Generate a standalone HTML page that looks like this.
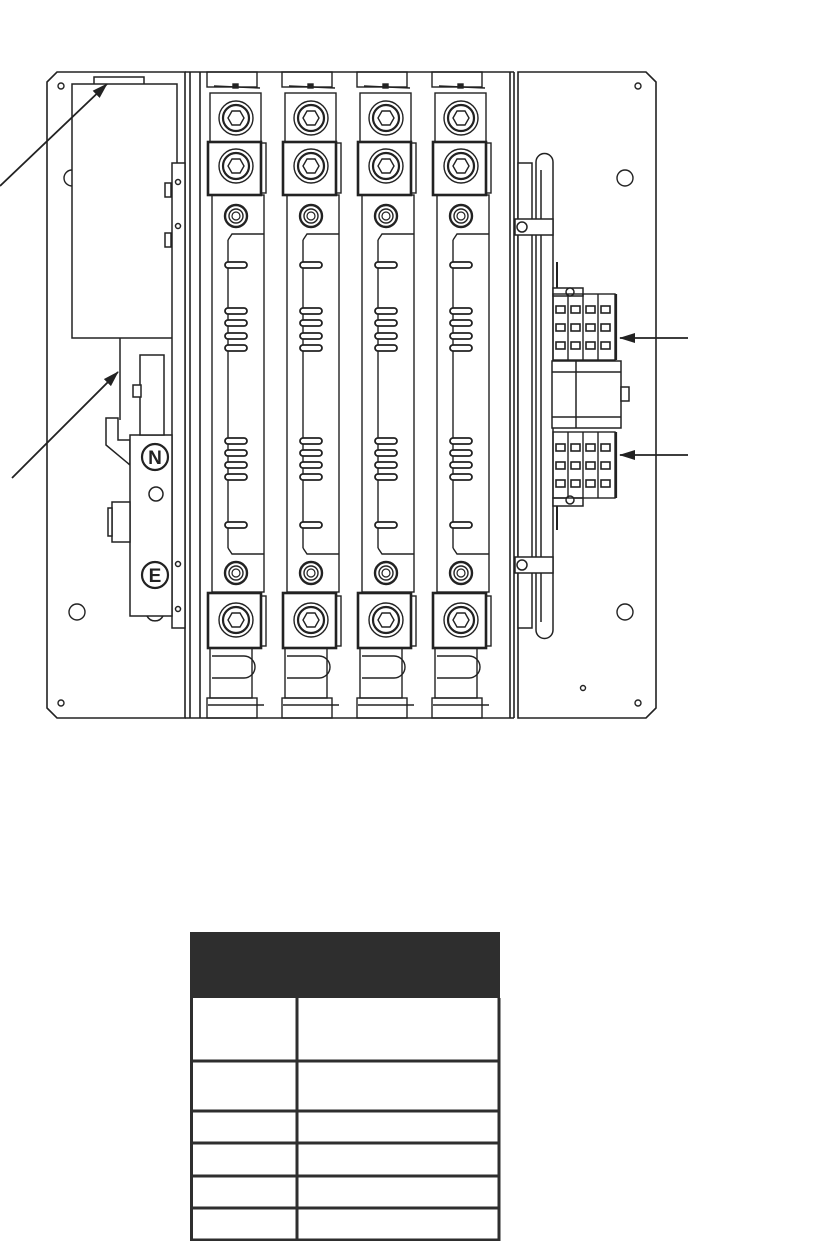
<!DOCTYPE html>
<html><head><meta charset="utf-8"><style>html,body{margin:0;padding:0;background:#fff}svg{display:block}</style></head>
<body>
<svg width="831" height="1241" viewBox="0 0 831 1241" xmlns="http://www.w3.org/2000/svg">
<defs>
<marker id="ah" markerWidth="16" markerHeight="10" refX="15" refY="5" orient="auto" markerUnits="userSpaceOnUse">
<path d="M0,0 L16,5 L0,10 z" fill="#222"/>
</marker>
<g id="bolt">
<circle r="17" fill="none" stroke="#222" stroke-width="1.4"/>
<circle r="13" fill="none" stroke="#222" stroke-width="2.2"/>
<polygon points="-8,0 -4,-7 4,-7 8,0 4,7 -4,7" fill="none" stroke="#222" stroke-width="1.4"/>
</g>
<g id="sb">
<circle r="11" fill="none" stroke="#222" stroke-width="2.4"/>
<circle r="7" fill="none" stroke="#222" stroke-width="1.4"/>
<circle r="4" fill="none" stroke="#222" stroke-width="1.2"/>
</g>
<g id="slot"><rect x="-11" y="-3" width="22" height="6" rx="3" fill="#fff" stroke="#222" stroke-width="1.8"/></g>
<g id="col" fill="none" stroke="#222" stroke-width="1.4">
<rect x="-29" y="72" width="50" height="15"/>
<line x1="-22" y1="86" x2="24" y2="88"/>
<rect x="-3" y="84" width="5" height="4" fill="#222"/>
<rect x="-26" y="93" width="51" height="49"/>
<rect x="-28" y="142" width="53" height="53" stroke-width="2.6"/>
<rect x="25" y="143" width="5" height="50"/>
<rect x="-24" y="195" width="52" height="397"/>
<path d="M-8,240 L-4,234 L28,234"/>
<line x1="-8" y1="240" x2="-8" y2="548"/>
<path d="M-8,548 L-4,554 L28,554"/>
<rect x="-28" y="593" width="53" height="55" stroke-width="2.6"/>
<rect x="25" y="596" width="5" height="50"/>
<rect x="-26" y="648" width="42" height="50"/>
<path d="M-24,656 L8,656 A11,11 0 0 1 8,678 L-24,678"/>
<line x1="-28" y1="705" x2="28" y2="705"/>
<rect x="-29" y="698" width="50" height="20"/>
<use href="#bolt" x="0" y="118"/>
<use href="#bolt" x="0" y="166"/>
<use href="#sb" x="0" y="216"/>
<use href="#sb" x="0" y="573"/>
<use href="#bolt" x="0" y="620"/>
<use href="#slot" x="0" y="265"/>
<use href="#slot" x="0" y="311"/>
<use href="#slot" x="0" y="323"/>
<use href="#slot" x="0" y="336"/>
<use href="#slot" x="0" y="348"/>
<use href="#slot" x="0" y="441"/>
<use href="#slot" x="0" y="453"/>
<use href="#slot" x="0" y="465"/>
<use href="#slot" x="0" y="477"/>
<use href="#slot" x="0" y="525"/>
</g>
<g id="tb" fill="none" stroke="#222" stroke-width="1.4">
<rect x="553" y="0" width="62" height="66"/>
<line x1="568" y1="0" x2="568" y2="66"/><line x1="583" y1="0" x2="583" y2="66"/><line x1="598" y1="0" x2="598" y2="66"/>
<g fill="#fff" stroke-width="1.6">
<rect x="556" y="12" width="9" height="7"/><rect x="571" y="12" width="9" height="7"/><rect x="586" y="12" width="9" height="7"/><rect x="601" y="12" width="9" height="7"/>
<rect x="556" y="30" width="9" height="7"/><rect x="571" y="30" width="9" height="7"/><rect x="586" y="30" width="9" height="7"/><rect x="601" y="30" width="9" height="7"/>
<rect x="556" y="48" width="9" height="7"/><rect x="571" y="48" width="9" height="7"/><rect x="586" y="48" width="9" height="7"/><rect x="601" y="48" width="9" height="7"/>
</g>
<line x1="616" y1="0" x2="616" y2="66" stroke-width="2.2"/>
</g>
</defs>

<g fill="none" stroke="#222" stroke-width="1.6">
<path d="M57,72 L185,72 L185,718 L57,718 L47,708 L47,82 Z"/>
<path d="M518,72 L646,72 L656,82 L656,708 L646,718 L518,718 Z"/>
<line x1="190" y1="72" x2="190" y2="718"/>
<line x1="200" y1="72" x2="200" y2="718"/>
<line x1="510" y1="72" x2="510" y2="718"/>
<line x1="514" y1="72" x2="514" y2="718"/>
<line x1="185" y1="72" x2="514" y2="72"/>
<line x1="185" y1="718" x2="514" y2="718"/>
</g>
<g fill="none" stroke="#222" stroke-width="1.4">
<circle cx="61" cy="86" r="3"/><circle cx="61" cy="703" r="3"/>
<circle cx="638" cy="86" r="3"/><circle cx="638" cy="703" r="3"/><circle cx="583" cy="688" r="2.5"/>
<circle cx="625" cy="178" r="8"/><circle cx="625" cy="612" r="8"/>
<circle cx="77" cy="612" r="8"/>
<path d="M72,170 A8,8 0 0 0 72,186"/>
</g>
<g fill="#fff" stroke="#222" stroke-width="1.5">
<path d="M94,84 L94,77 L144,77 L144,84" fill="none"/>
<rect x="72" y="84" width="105" height="254"/>
<rect x="172" y="163" width="13" height="465"/>
<circle cx="178" cy="182" r="2.5"/><circle cx="178" cy="226" r="2.5"/><circle cx="178" cy="564" r="2.5"/><circle cx="178" cy="609" r="2.5"/>
<rect x="165" y="183" width="6" height="14"/><rect x="165" y="233" width="6" height="14"/>
<line x1="120" y1="338" x2="120" y2="420"/>
<path d="M106,418 L118,418 L118,440 L130,440 L130,465 L106,445 Z"/>
<rect x="130" y="435" width="42" height="181"/>
<rect x="140" y="355" width="24" height="80"/>
<rect x="133" y="385" width="8" height="12"/>
<rect x="112" y="502" width="18" height="40"/>
<rect x="108" y="508" width="4" height="28"/>
<circle cx="155" cy="457" r="13" stroke-width="2.2"/>
<circle cx="155" cy="575" r="13" stroke-width="2.2"/>
<circle cx="156" cy="494" r="7"/>
<path d="M147,616 A9,9 0 0 0 163,616" fill="none"/>
</g>
<text x="155" y="464" font-family="Liberation Sans, sans-serif" font-size="19" font-weight="bold" text-anchor="middle" fill="#222">N</text>
<text x="155" y="582" font-family="Liberation Sans, sans-serif" font-size="19" font-weight="bold" text-anchor="middle" fill="#222">E</text>

<use href="#col" x="236"/>
<use href="#col" x="311"/>
<use href="#col" x="386"/>
<use href="#col" x="461"/>

<g fill="#fff" stroke="#222" stroke-width="1.5">
<rect x="518" y="163" width="14" height="465"/>
<path d="M536,630 L536,162 A8.5,8.5 0 0 1 553,162 L553,630 A8.5,8.5 0 0 1 536,630 Z"/>
<line x1="541" y1="170" x2="541" y2="622"/>
<rect x="515" y="219" width="38" height="16"/><circle cx="522" cy="227" r="5"/>
<rect x="515" y="557" width="38" height="16"/><circle cx="522" cy="565" r="5"/>
<line x1="557" y1="262" x2="557" y2="295" stroke-width="2"/>
<line x1="557" y1="500" x2="557" y2="530" stroke-width="2"/>
<rect x="553" y="288" width="30" height="8"/><circle cx="570" cy="292" r="4"/>
<rect x="553" y="498" width="30" height="8"/><circle cx="570" cy="500" r="4"/>
<rect x="552" y="361" width="69" height="67"/>
<line x1="576" y1="361" x2="576" y2="428"/>
<line x1="552" y1="372" x2="621" y2="372"/><line x1="552" y1="417" x2="621" y2="417"/>
<rect x="621" y="387" width="8" height="14"/>
</g>
<use href="#tb" y="294"/>
<use href="#tb" y="432"/>

<g stroke="#222" stroke-width="1.8" fill="none">
<line x1="0" y1="186" x2="107" y2="84" marker-end="url(#ah)"/>
<line x1="12" y1="478" x2="118" y2="372" marker-end="url(#ah)"/>
<line x1="688" y1="338" x2="620" y2="338" marker-end="url(#ah)"/>
<line x1="688" y1="455" x2="620" y2="455" marker-end="url(#ah)"/>
</g>

<rect x="190" y="932" width="310" height="66" fill="#2e2e2e"/>
<g stroke="#2e2e2e" stroke-width="3" fill="none">
<line x1="191.5" y1="998" x2="191.5" y2="1241"/>
<line x1="499" y1="998" x2="499" y2="1241"/>
<line x1="297" y1="998" x2="297" y2="1241"/>
<line x1="190" y1="1061" x2="500" y2="1061"/>
<line x1="190" y1="1111" x2="500" y2="1111"/>
<line x1="190" y1="1143" x2="500" y2="1143"/>
<line x1="190" y1="1176" x2="500" y2="1176"/>
<line x1="190" y1="1208" x2="500" y2="1208"/>
<line x1="190" y1="1240" x2="500" y2="1240"/>
</g>
</svg>
</body></html>
